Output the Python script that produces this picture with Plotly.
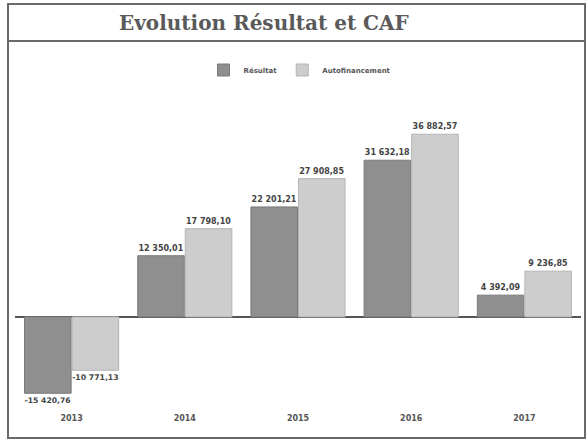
import plotly.graph_objects as go

years = ["2013", "2014", "2015", "2016", "2017"]
resultat = [-15420.76, 12350.01, 22201.21, 31632.18, 4392.09]
caf = [-10771.13, 17798.10, 27908.85, 36882.57, 9236.85]
series_names = ["Résultat", "Autofinancement"]


def fr(v):
    s = f"{v:,.2f}"
    return s.replace(",", " ").replace(".", ",")


lab_font = dict(size=8, color="#444444", family="DejaVu Sans", weight="bold")

fig = go.Figure()
fig.add_trace(go.Bar(
    x=years, y=resultat, name=series_names[0],
    marker=dict(color="#8f8f8f", line=dict(color="#7a7a7a", width=1)),
    text=[fr(v) for v in resultat], textposition="outside",
    textfont=lab_font, cliponaxis=False,
))
fig.add_trace(go.Bar(
    x=years, y=caf, name=series_names[1],
    marker=dict(color="#cdcdcd", line=dict(color="#b5b5b5", width=1)),
    text=[fr(v) for v in caf], textposition="outside",
    textfont=lab_font, cliponaxis=False,
))

L, R, T, B = 15, 7, 95, 31
W, H = 588, 443
pw, ph = W - L - R, H - T - B


def px(x):
    return (x - L) / pw


def py(y):
    return (H - B - y) / ph


shapes = [
    dict(type="rect", xref="paper", yref="paper", x0=px(8), x1=px(585), y0=py(438), y1=py(4),
         line=dict(color="#6a6a6a", width=2)),
    dict(type="line", xref="paper", yref="paper", x0=px(8), x1=px(585), y0=py(41), y1=py(41),
         line=dict(color="#6a6a6a", width=2)),
]

fig.update_layout(
    width=W, height=H,
    margin=dict(l=L, r=R, t=T, b=B),
    paper_bgcolor="white", plot_bgcolor="white",
    barmode="group", bargap=0.16, bargroupgap=0.02,
    showlegend=True,
    legend=dict(orientation="h", x=px(300), xanchor="center", y=py(70), yanchor="middle",
                font=dict(size=7, color="#555555", family="DejaVu Sans", weight="bold"),
                itemwidth=30, traceorder="normal"),
    shapes=shapes,
    annotations=[dict(text="<b>Evolution Résultat et CAF</b>", xref="paper", yref="paper",
                      x=px(264), y=py(23), xanchor="center", yanchor="middle", showarrow=False,
                      font=dict(size=20, color="#5a5a5a", family="DejaVu Serif"))],
    xaxis=dict(showgrid=False, showline=False, ticks="",
               tickfont=dict(size=8, color="#555555", family="DejaVu Sans", weight="bold")),
    yaxis=dict(range=[-19200, 44800], showgrid=False, showticklabels=False, ticks="",
               zeroline=True, zerolinecolor="#555555", zerolinewidth=2, showline=False),
)

fig.write_html("out.html", config={"displayModeBar": False},
               post_script=["document.body.style.margin='0';document.body.style.overflow='hidden';"])
